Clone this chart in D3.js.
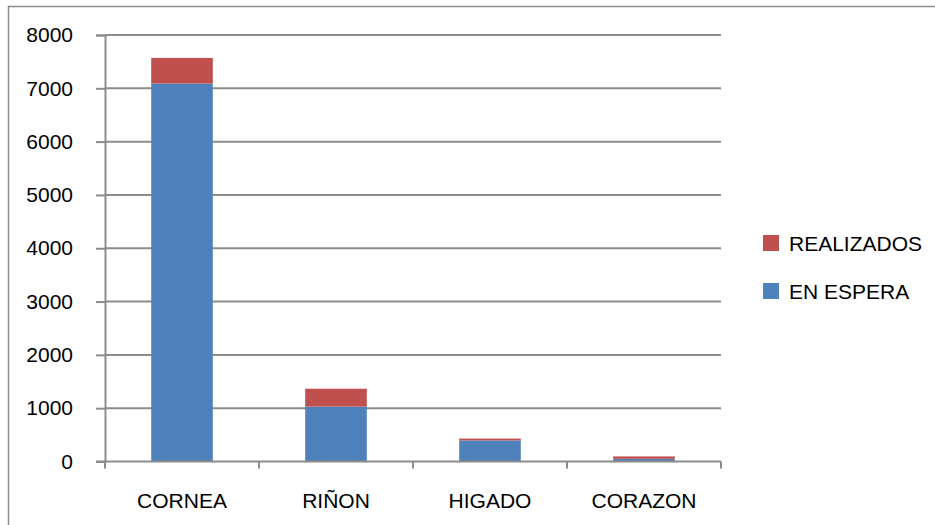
<!DOCTYPE html>
<html>
<head>
<meta charset="utf-8">
<script src="https://cdn.jsdelivr.net/npm/d3@7"></script>
<style>
  body { margin: 0; background: #fff; }
  text { font-family: "Liberation Sans", Arial, sans-serif; fill: #000; }
</style>
</head>
<body>
<script>
const width = 935;
const height = 525;
const margin = { left: 105, top: 35, right: 214, bottom: 64 };

const categories = ["CORNEA", "RIÑON", "HIGADO", "CORAZON"];
const enEspera = [7090, 1030, 395, 50];
const realizados = [480, 335, 35, 45];
const yTicks = [0, 1000, 2000, 3000, 4000, 5000, 6000, 7000, 8000];
const seriesNames = ["REALIZADOS", "EN ESPERA"];

const colors = { "EN ESPERA": "#4f81bd", "REALIZADOS": "#c0504d" };
const gridColor = "#8c8c8c";

const rows = categories.map((c, i) => ({ cat: c, "EN ESPERA": enEspera[i], "REALIZADOS": realizados[i] }));
const stacked = d3.stack().keys(["EN ESPERA", "REALIZADOS"])(rows);

const svg = d3.select("body").append("svg")
    .attr("width", width)
    .attr("height", height);

// outer frame
svg.append("rect")
    .attr("x", 8.5)
    .attr("y", 6.5)
    .attr("width", width)
    .attr("height", height)
    .attr("fill", "none")
    .attr("stroke", gridColor)
    .attr("stroke-width", 1.5);

const x = d3.scaleBand()
    .domain(categories)
    .range([margin.left, 721])
    .paddingInner(0.6)
    .paddingOuter(0.3);

const y = d3.scaleLinear()
    .domain([0, 8000])
    .range([461.5, margin.top]);

// gridlines
svg.append("g")
    .selectAll("line")
    .data(yTicks.filter(d => d > 0))
    .join("line")
    .attr("x1", margin.left)
    .attr("x2", 721)
    .attr("y1", d => y(d))
    .attr("y2", d => y(d))
    .attr("stroke", gridColor)
    .attr("stroke-width", 2);

// bars
svg.append("g")
    .selectAll("g")
    .data(stacked)
    .join("g")
    .attr("fill", d => colors[d.key])
    .selectAll("rect")
    .data(d => d)
    .join("rect")
    .attr("x", d => x(d.data.cat))
    .attr("width", x.bandwidth())
    .attr("y", d => y(d[1]))
    .attr("height", d => y(d[0]) - y(d[1]));

// y axis
const yAxis = svg.append("g")
    .attr("transform", `translate(${margin.left},0)`)
    .call(d3.axisLeft(y).tickValues(yTicks).tickFormat(d3.format("d")).tickSize(9).tickPadding(23));
yAxis.selectAll("line, path").attr("stroke", gridColor).attr("stroke-width", 2);
yAxis.selectAll("text").attr("font-size", 21).attr("font-family", "Liberation Sans, Arial, sans-serif");

// x axis with ticks at band boundaries
const xAxisG = svg.append("g")
    .attr("transform", `translate(0,${y(0)})`);
xAxisG.append("line")
    .attr("x1", margin.left - 9)
    .attr("x2", 721)
    .attr("stroke", gridColor)
    .attr("stroke-width", 2);
const step = x.step();
const boundaries = d3.range(categories.length + 1).map(i => margin.left + i * step);
xAxisG.selectAll(".tk")
    .data(boundaries)
    .join("line")
    .attr("class", "tk")
    .attr("x1", d => d)
    .attr("x2", d => d)
    .attr("y1", 0)
    .attr("y2", 7)
    .attr("stroke", gridColor)
    .attr("stroke-width", 2);
xAxisG.selectAll("text")
    .data(categories)
    .join("text")
    .attr("x", d => x(d) + x.bandwidth() / 2)
    .attr("y", 46)
    .attr("text-anchor", "middle")
    .attr("font-size", 21)
    .text(d => d);

// legend
const legend = svg.append("g")
    .selectAll("g")
    .data(seriesNames)
    .join("g")
    .attr("transform", (d, i) => `translate(763,${235 + i * 48})`);
legend.append("rect")
    .attr("width", 16)
    .attr("height", 16)
    .attr("fill", d => colors[d]);
legend.append("text")
    .attr("x", 26)
    .attr("y", 16)
    .attr("font-size", 21)
    .text(d => d);
</script>
</body>
</html>
